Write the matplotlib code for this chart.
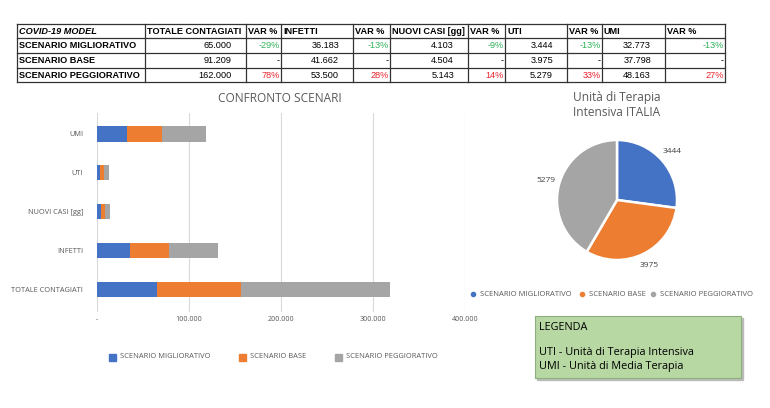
import numpy as np
import matplotlib
matplotlib.use("Agg")
import matplotlib.pyplot as plt
from matplotlib.patches import Rectangle

# ---- data ----
scenari = ["SCENARIO MIGLIORATIVO", "SCENARIO BASE", "SCENARIO PEGGIORATIVO"]
categorie = ["TOTALE CONTAGIATI", "INFETTI", "NUOVI CASI [gg]", "UTI", "UMI"]
totale = [65000, 91209, 162000]
infetti = [36183, 41662, 53500]
nuovi = [4103, 4504, 5143]
uti = [3444, 3975, 5279]
umi = [32773, 37798, 48163]
var_totale = [-29, None, 78]
var_infetti = [-13, None, 28]
var_nuovi = [-9, None, 14]
var_uti = [-13, None, 33]
var_umi = [-13, None, 27]
x_ticks = [0, 100000, 200000, 300000, 400000]

colori = ["#4472C4", "#ED7D31", "#A5A5A5"]
grigio = "#595959"
TAB_FONT = ["Liberation Sans Narrow", "Liberation Sans", "DejaVu Sans"]
CH_FONT = ["Open Sans", "DejaVu Sans"]


def fmt(v):
    return f"{v:,}".replace(",", ".")


fig = plt.figure(figsize=(7.7, 4.08), dpi=100)
canvas = fig.add_axes([0, 0, 1, 1])
canvas.set_xlim(0, 770)
canvas.set_ylim(408, 0)
canvas.axis("off")

# ---- table ----
edges = [17, 145, 246, 281, 353, 390, 468, 505, 567, 602, 665, 725]
rows_y = [24, 38, 53, 68, 82]
header = ["COVID-19 MODEL", "TOTALE CONTAGIATI", "VAR %", "INFETTI", "VAR %",
          "NUOVI CASI [gg]", "VAR %", "UTI", "VAR %", "UMI", "VAR %"]
valori = [totale, infetti, nuovi, uti, umi]
variazioni = [var_totale, var_infetti, var_nuovi, var_uti, var_umi]
tfs = 6.6

for y in rows_y:
    canvas.plot([edges[0], edges[-1]], [y, y], color="#333333", lw=0.9)
for x in edges:
    canvas.plot([x, x], [rows_y[0], rows_y[-1]], color="#333333", lw=0.9)

hy = (rows_y[0] + rows_y[1]) / 2
for i, h in enumerate(header):
    canvas.text(edges[i] + 2, hy, h, ha="left", va="center", fontsize=tfs,
                fontweight="bold", style="italic" if i == 0 else "normal",
                family=TAB_FONT)

for r, nome in enumerate(scenari):
    cy = (rows_y[r + 1] + rows_y[r + 2]) / 2
    canvas.text(edges[0] + 2, cy, nome, ha="left", va="center", fontsize=tfs,
                fontweight="bold", family=TAB_FONT)
    for k in range(5):
        xv = edges[1 + 2 * k + 1] - 14
        canvas.text(xv, cy, fmt(valori[k][r]), ha="right", va="center",
                    fontsize=tfs, family=TAB_FONT)
        v = variazioni[k][r]
        xr = edges[2 + 2 * k + 1] - 1
        if v is None:
            canvas.text(xr, cy, "-", ha="right", va="center", fontsize=tfs,
                        family=TAB_FONT)
        else:
            c = "#2fb35a" if v < 0 else "#e8252e"
            canvas.text(xr, cy, f"{v}%", ha="right", va="center",
                        fontsize=tfs, color=c, family=TAB_FONT)

# ---- stacked bar chart ----
ax = fig.add_axes([97 / 770, 1 - 312 / 408, 368 / 770, 199 / 408])
serie = [[totale[s], infetti[s], nuovi[s], uti[s], umi[s]] for s in range(3)]
ypos = np.arange(len(categorie))
left = np.zeros(len(categorie))
for s in range(3):
    ax.barh(ypos, serie[s], left=left, height=0.39, color=colori[s],
            label=scenari[s], zorder=3)
    left += np.array(serie[s])
ax.set_xlim(0, 400000)
ax.set_ylim(-0.59, 4.54)
ax.set_xticks(x_ticks)
ax.set_xticklabels(["-" if t == 0 else fmt(t) for t in x_ticks],
                   fontsize=5.2, color=grigio, family=CH_FONT)
ax.set_yticks(ypos)
ax.set_yticklabels(categorie, fontsize=5.3, color=grigio, family=CH_FONT)
ax.tick_params(length=0, pad=10)
ax.tick_params(axis="x", pad=3)
ax.grid(axis="x", color="#d9d9d9", lw=0.8, zorder=0)
for sp in ax.spines.values():
    sp.set_visible(False)
canvas.text(280, 98, "CONFRONTO SCENARI", ha="center", va="center",
            fontsize=8.6, color=grigio, family=CH_FONT)

leg_x = [112, 242, 338]
for s in range(3):
    canvas.add_patch(Rectangle((leg_x[s] - 3.5, 353.5), 7, 7,
                               color=colori[s]))
    canvas.text(leg_x[s] + 8, 357, scenari[s], ha="left", va="center",
                fontsize=5.4, color=grigio, family=CH_FONT)

# ---- pie ----
r_px = 60
half = 70
pax = fig.add_axes([(617 - half) / 770, 1 - (200 + half) / 408,
                    2 * half / 770, 2 * half / 408])
lim = half / r_px
wedges, texts = pax.pie(uti, colors=colori, startangle=90, counterclock=False,
                        labels=[str(v) for v in uti], labeldistance=1.22,
                        wedgeprops=dict(edgecolor="white", linewidth=1.8),
                        textprops=dict(fontsize=6, color="#404040",
                                       family=CH_FONT))
for t in texts:
    t.set_ha("center")
pax.set_xlim(-lim, lim)
pax.set_ylim(-lim, lim)
canvas.text(617, 105, "Unità di Terapia\nIntensiva ITALIA", ha="center",
            va="center", fontsize=8.6, color=grigio, family=CH_FONT,
            linespacing=1.15)

pleg_x = [473, 582, 653]
for s in range(3):
    canvas.scatter([pleg_x[s]], [294], s=9, color=colori[s])
    canvas.text(pleg_x[s] + 7, 294, scenari[s], ha="left", va="center",
                fontsize=5.5, color=grigio, family=CH_FONT)

# ---- legenda box ----
canvas.add_patch(Rectangle((537, 318), 206, 62, color="#bbbbbb", zorder=1))
canvas.add_patch(Rectangle((535, 316), 206, 62, facecolor="#b7d7a3",
                           edgecolor="#8fae7d", lw=0.8, zorder=2))
canvas.text(539, 327, "LEGENDA", ha="left", va="center", fontsize=7.8,
            family=CH_FONT, zorder=3)
canvas.text(539, 353, "UTI - Unità di Terapia Intensiva", ha="left",
            va="center", fontsize=7.8, family=CH_FONT, zorder=3)
canvas.text(539, 367, "UMI - Unità di Media Terapia", ha="left",
            va="center", fontsize=7.8, family=CH_FONT, zorder=3)

fig.savefig("out.png", dpi=100)
